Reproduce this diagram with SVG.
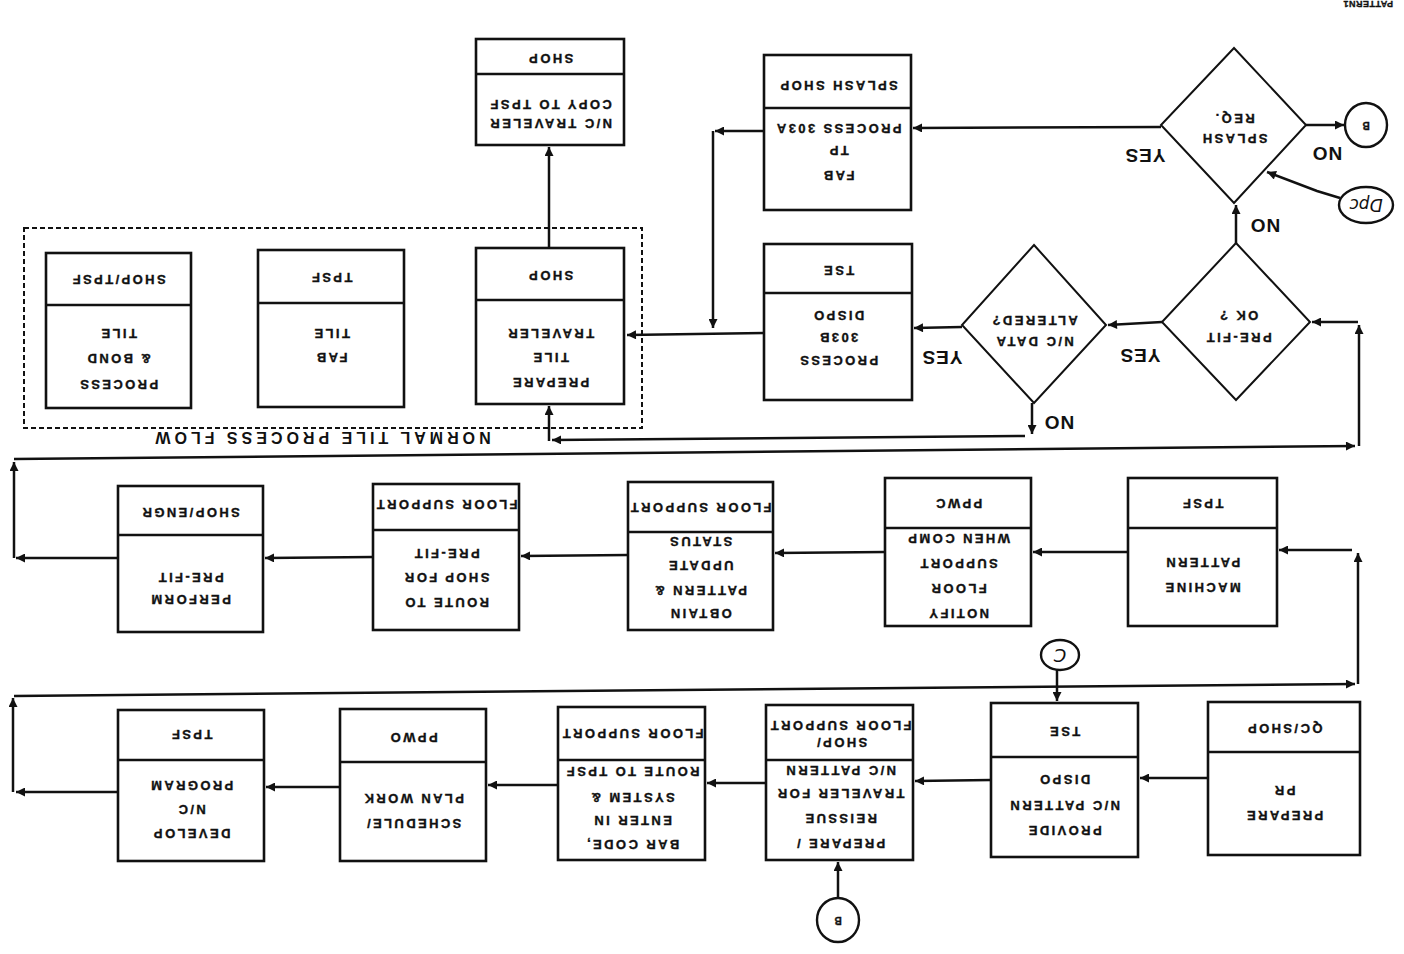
<svg xmlns="http://www.w3.org/2000/svg" width="1404" height="954" viewBox="0 0 1404 954">
<defs>
<marker id="ah" viewBox="0 0 10 10" refX="10" refY="5" markerWidth="11" markerHeight="9" markerUnits="userSpaceOnUse" orient="auto"><path d="M0,0 L10,5 L0,10 z" fill="#111"/></marker>
<style>
.bx{fill:#fff;stroke:#111;stroke-width:2.6}
.dv{stroke:#111;stroke-width:2.4}
.dm{fill:#fff;stroke:#111;stroke-width:2}
.c{fill:none;stroke:#111;stroke-width:2.4}
.ca{fill:none;stroke:#111;stroke-width:2.5;marker-end:url(#ah)}
.t{font-family:"Liberation Sans",Arial,sans-serif;font-weight:bold;font-size:13px;letter-spacing:2.4px;text-anchor:middle;dominant-baseline:central;fill:#111;stroke:#111;stroke-width:0.35}
.lb{font-family:"Liberation Sans",Arial,sans-serif;font-weight:bold;font-size:19px;letter-spacing:1px;text-anchor:middle;dominant-baseline:central;fill:#111}
.tt{font-family:"Liberation Sans",Arial,sans-serif;font-weight:bold;font-size:16px;letter-spacing:4px;text-anchor:middle;dominant-baseline:central;fill:#111}
.hw{font-family:"DejaVu Sans",sans-serif;font-style:italic;text-anchor:middle;dominant-baseline:central;fill:#111}
</style>
</defs>
<rect width="1404" height="954" fill="#fff"/>

<text class="t" x="1368" y="4" style="font-size:9px;letter-spacing:0.5px" transform="rotate(180 1368 4)">PATTERN1</text>

<rect x="24" y="228" width="618" height="200" fill="none" stroke="#111" stroke-width="2" stroke-dasharray="5 3"/>
<text class="tt" x="321" y="437" transform="rotate(180 321 437)">NORMAL TILE PROCESS FLOW</text>

<g id="connectors">
<path class="ca" d="M549,248 L549,147"/>
<path class="ca" d="M1161,127 L913,128"/>
<path class="ca" d="M764,131 L715,131"/>
<path class="ca" d="M713,131 L713,328"/>
<path class="ca" d="M764,333 L627,335"/>
<path class="ca" d="M962,327 L914,328"/>
<path class="ca" d="M1162,322 L1108,325"/>
<path class="ca" d="M1236,243 L1236,205"/>
<path class="ca" d="M1306,125 L1344,125"/>
<path class="ca" d="M1340,198 L1317,191 L1267,172"/>
<path class="ca" d="M1032,403 L1032,434"/>
<path class="ca" d="M1025,436 L552,440"/>
<path class="ca" d="M549,441 L549,406"/>
<path class="ca" d="M14,459 L1355,446"/>
<path class="ca" d="M1359,446 L1359,325"/>
<path class="ca" d="M1358,322 L1312,322"/>
<path class="ca" d="M1128,552 L1033,552"/>
<path class="ca" d="M885,552 L775,553"/>
<path class="ca" d="M628,555 L521,556"/>
<path class="ca" d="M373,557 L265,558"/>
<path class="ca" d="M118,558 L16,558"/>
<path class="ca" d="M14,558 L14,462"/>
<path class="ca" d="M14,696 L1355,684"/>
<path class="ca" d="M1358,684 L1358,553"/>
<path class="ca" d="M1352,550 L1279,550"/>
<path class="ca" d="M1208,778 L1140,778"/>
<path class="ca" d="M991,780 L915,781"/>
<path class="ca" d="M766,783 L707,783"/>
<path class="ca" d="M558,785 L488,785"/>
<path class="ca" d="M340,787 L266,787"/>
<path class="ca" d="M118,792 L16,792"/>
<path class="ca" d="M13,792 L13,698"/>
<path class="ca" d="M838,898 L838,862"/>
<path class="ca" d="M1057,670 L1057,701"/>
</g>

<g id="n_copy">
<rect class="bx" x="476" y="39" width="148" height="106"/><line class="dv" x1="476" y1="74" x2="624" y2="74"/>
<text class="t" x="550" y="58" transform="rotate(180 550 58)">SHOP</text>
<text class="t" x="550" y="123" transform="rotate(180 550 123)">N/C TRAVELER</text>
<text class="t" x="550" y="104" transform="rotate(180 550 104)">COPY TO TPSF</text>
</g>

<g id="n_fabtp">
<rect class="bx" x="764" y="55" width="147" height="155"/><line class="dv" x1="764" y1="108" x2="911" y2="108"/>
<text class="t" x="838" y="85" transform="rotate(180 838 85)">SPLASH SHOP</text>
<text class="t" x="838" y="175" transform="rotate(180 838 175)">FAB</text>
<text class="t" x="838" y="150" transform="rotate(180 838 150)">TP</text>
<text class="t" x="838" y="128" transform="rotate(180 838 128)">PROCESS 303A</text>
</g>

<g id="n_splash">
<polygon class="dm" points="1234,48 1306,125 1234,203 1161,125"/>
<text class="t" x="1234" y="138" transform="rotate(180 1234 138)">SPLASH</text>
<text class="t" x="1234" y="118" transform="rotate(180 1234 118)">REQ.</text>
<text class="lb" x="1145" y="155" transform="rotate(180 1145 155)">YES</text>
<text class="lb" x="1327" y="153" transform="rotate(180 1327 153)">NO</text>
</g>

<g id="n_b1">
<ellipse class="c" cx="1366" cy="125" rx="21" ry="22" style="fill:#fff"/>
<text class="t" x="1366" y="125" style="font-size:10px;letter-spacing:0" transform="rotate(180 1366 125)">B</text>
</g>

<g id="n_dpc">
<ellipse class="c" cx="1366" cy="205" rx="27" ry="18" style="fill:#fff"/>
<text class="hw" x="1366" y="205" style="font-size:17px" transform="rotate(180 1366 205)">Dpc</text>
</g>

<g id="n_prefit">
<polygon class="dm" points="1236,243 1310,322 1236,400 1162,322"/>
<text class="t" x="1238" y="337" transform="rotate(180 1238 337)">PRE-FIT</text>
<text class="t" x="1238" y="315" transform="rotate(180 1238 315)">OK ?</text>
<text class="lb" x="1265" y="225" transform="rotate(180 1265 225)">NO</text>
<text class="lb" x="1140" y="355" transform="rotate(180 1140 355)">YES</text>
</g>

<g id="n_ncdata">
<polygon class="dm" points="1034,245 1106,325 1034,403 962,325"/>
<text class="t" x="1034" y="341" transform="rotate(180 1034 341)">N/C DATA</text>
<text class="t" x="1034" y="320" transform="rotate(180 1034 320)">ALTERED?</text>
<text class="lb" x="942" y="357" transform="rotate(180 942 357)">YES</text>
<text class="lb" x="1059" y="422" transform="rotate(180 1059 422)">NO</text>
</g>

<g id="n_tse1">
<rect class="bx" x="764" y="244" width="148" height="156"/><line class="dv" x1="764" y1="293" x2="912" y2="293"/>
<text class="t" x="838" y="270" transform="rotate(180 838 270)">TSE</text>
<text class="t" x="838" y="360" transform="rotate(180 838 360)">PROCESS</text>
<text class="t" x="838" y="337" transform="rotate(180 838 337)">303B</text>
<text class="t" x="838" y="315" transform="rotate(180 838 315)">DISPO</text>
</g>

<g id="n_preptile">
<rect class="bx" x="476" y="248" width="148" height="156"/><line class="dv" x1="476" y1="300" x2="624" y2="300"/>
<text class="t" x="550" y="275" transform="rotate(180 550 275)">SHOP</text>
<text class="t" x="550" y="382" transform="rotate(180 550 382)">PREPARE</text>
<text class="t" x="550" y="357" transform="rotate(180 550 357)">TILE</text>
<text class="t" x="550" y="333" transform="rotate(180 550 333)">TRAVELER</text>
</g>

<g id="n_fabtile">
<rect class="bx" x="258" y="250" width="146" height="157"/><line class="dv" x1="258" y1="303" x2="404" y2="303"/>
<text class="t" x="331" y="277" transform="rotate(180 331 277)">TPSF</text>
<text class="t" x="331" y="357" transform="rotate(180 331 357)">FAB</text>
<text class="t" x="331" y="333" transform="rotate(180 331 333)">TILE</text>
</g>

<g id="n_bond">
<rect class="bx" x="46" y="253" width="145" height="155"/><line class="dv" x1="46" y1="305" x2="191" y2="305"/>
<text class="t" x="118" y="279" transform="rotate(180 118 279)">SHOP/TPSF</text>
<text class="t" x="118" y="384" transform="rotate(180 118 384)">PROCESS</text>
<text class="t" x="118" y="358" transform="rotate(180 118 358)">&amp; BOND</text>
<text class="t" x="118" y="333" transform="rotate(180 118 333)">TILE</text>
</g>

<g id="n_machine">
<rect class="bx" x="1128" y="478" width="149" height="148"/><line class="dv" x1="1128" y1="528" x2="1277" y2="528"/>
<text class="t" x="1202" y="503" transform="rotate(180 1202 503)">TPSF</text>
<text class="t" x="1202" y="587" transform="rotate(180 1202 587)">MACHINE</text>
<text class="t" x="1202" y="562" transform="rotate(180 1202 562)">PATTERN</text>
</g>

<g id="n_notify">
<rect class="bx" x="885" y="478" width="146" height="148"/><line class="dv" x1="885" y1="528" x2="1031" y2="528"/>
<text class="t" x="958" y="503" transform="rotate(180 958 503)">PPWC</text>
<text class="t" x="958" y="613" transform="rotate(180 958 613)">NOTIFY</text>
<text class="t" x="958" y="588" transform="rotate(180 958 588)">FLOOR</text>
<text class="t" x="958" y="563" transform="rotate(180 958 563)">SUPPORT</text>
<text class="t" x="958" y="538" transform="rotate(180 958 538)">WHEN COMP</text>
</g>

<g id="n_obtain">
<rect class="bx" x="628" y="482" width="145" height="148"/><line class="dv" x1="628" y1="532" x2="773" y2="532"/>
<text class="t" x="700" y="507" transform="rotate(180 700 507)">FLOOR SUPPORT</text>
<text class="t" x="700" y="613" transform="rotate(180 700 613)">OBTAIN</text>
<text class="t" x="700" y="590" transform="rotate(180 700 590)">PATTERN &amp;</text>
<text class="t" x="700" y="565" transform="rotate(180 700 565)">UPDATE</text>
<text class="t" x="700" y="541" transform="rotate(180 700 541)">STATUS</text>
</g>

<g id="n_route">
<rect class="bx" x="373" y="484" width="146" height="146"/><line class="dv" x1="373" y1="530" x2="519" y2="530"/>
<text class="t" x="446" y="504" transform="rotate(180 446 504)">FLOOR SUPPORT</text>
<text class="t" x="446" y="602" transform="rotate(180 446 602)">ROUTE TO</text>
<text class="t" x="446" y="577" transform="rotate(180 446 577)">SHOP FOR</text>
<text class="t" x="446" y="553" transform="rotate(180 446 553)">PRE-FIT</text>
</g>

<g id="n_perform">
<rect class="bx" x="118" y="486" width="145" height="146"/><line class="dv" x1="118" y1="535" x2="263" y2="535"/>
<text class="t" x="190" y="512" transform="rotate(180 190 512)">SHOP/ENGR</text>
<text class="t" x="190" y="599" transform="rotate(180 190 599)">PERFORM</text>
<text class="t" x="190" y="577" transform="rotate(180 190 577)">PRE-FIT</text>
</g>

<g id="n_preppr">
<rect class="bx" x="1208" y="702" width="152" height="153"/><line class="dv" x1="1208" y1="752" x2="1360" y2="752"/>
<text class="t" x="1284" y="728" transform="rotate(180 1284 728)">QC/SHOP</text>
<text class="t" x="1284" y="815" transform="rotate(180 1284 815)">PREPARE</text>
<text class="t" x="1284" y="790" transform="rotate(180 1284 790)">PR</text>
</g>

<g id="n_c">
<ellipse class="c" cx="1060" cy="655" rx="19" ry="15" style="fill:#fff"/>
<text class="hw" x="1060" y="655" style="font-size:18px" transform="rotate(180 1060 655)">C</text>
</g>

<g id="n_provide">
<rect class="bx" x="991" y="703" width="147" height="154"/><line class="dv" x1="991" y1="757" x2="1138" y2="757"/>
<text class="t" x="1064" y="731" transform="rotate(180 1064 731)">TSE</text>
<text class="t" x="1064" y="830" transform="rotate(180 1064 830)">PROVIDE</text>
<text class="t" x="1064" y="805" transform="rotate(180 1064 805)">N/C PATTERN</text>
<text class="t" x="1064" y="779" transform="rotate(180 1064 779)">DISPO</text>
</g>

<g id="n_reissue">
<rect class="bx" x="766" y="705" width="147" height="155"/><line class="dv" x1="766" y1="760" x2="913" y2="760"/>
<text class="t" x="841" y="742" transform="rotate(180 841 742)">SHOP/</text>
<text class="t" x="840" y="725" transform="rotate(180 840 725)">FLOOR SUPPORT</text>
<text class="t" x="840" y="843" transform="rotate(180 840 843)">PREPARE /</text>
<text class="t" x="840" y="818" transform="rotate(180 840 818)">REISSUE</text>
<text class="t" x="840" y="793" transform="rotate(180 840 793)">TRAVELER FOR</text>
<text class="t" x="840" y="770" transform="rotate(180 840 770)">N/C PATTERN</text>
</g>

<g id="n_b2">
<ellipse class="c" cx="838" cy="920" rx="21" ry="22" style="fill:#fff"/>
<text class="t" x="838" y="920" style="font-size:10px;letter-spacing:0" transform="rotate(180 838 920)">B</text>
</g>

<g id="n_barcode">
<rect class="bx" x="558" y="707" width="147" height="153"/><line class="dv" x1="558" y1="760" x2="705" y2="760"/>
<text class="t" x="632" y="733" transform="rotate(180 632 733)">FLOOR SUPPORT</text>
<text class="t" x="632" y="844" transform="rotate(180 632 844)">BAR CODE,</text>
<text class="t" x="632" y="820" transform="rotate(180 632 820)">ENTER IN</text>
<text class="t" x="632" y="797" transform="rotate(180 632 797)">SYSTEM &amp;</text>
<text class="t" x="632" y="771" transform="rotate(180 632 771)">ROUTE TO TPSF</text>
</g>

<g id="n_schedule">
<rect class="bx" x="340" y="709" width="146" height="152"/><line class="dv" x1="340" y1="762" x2="486" y2="762"/>
<text class="t" x="413" y="737" transform="rotate(180 413 737)">PPWO</text>
<text class="t" x="413" y="823" transform="rotate(180 413 823)">SCHEDULE/</text>
<text class="t" x="413" y="798" transform="rotate(180 413 798)">PLAN WORK</text>
</g>

<g id="n_develop">
<rect class="bx" x="118" y="710" width="146" height="151"/><line class="dv" x1="118" y1="760" x2="264" y2="760"/>
<text class="t" x="191" y="734" transform="rotate(180 191 734)">TPSF</text>
<text class="t" x="191" y="833" transform="rotate(180 191 833)">DEVELOP</text>
<text class="t" x="191" y="809" transform="rotate(180 191 809)">N/C</text>
<text class="t" x="191" y="785" transform="rotate(180 191 785)">PROGRAM</text>
</g>
</svg>
